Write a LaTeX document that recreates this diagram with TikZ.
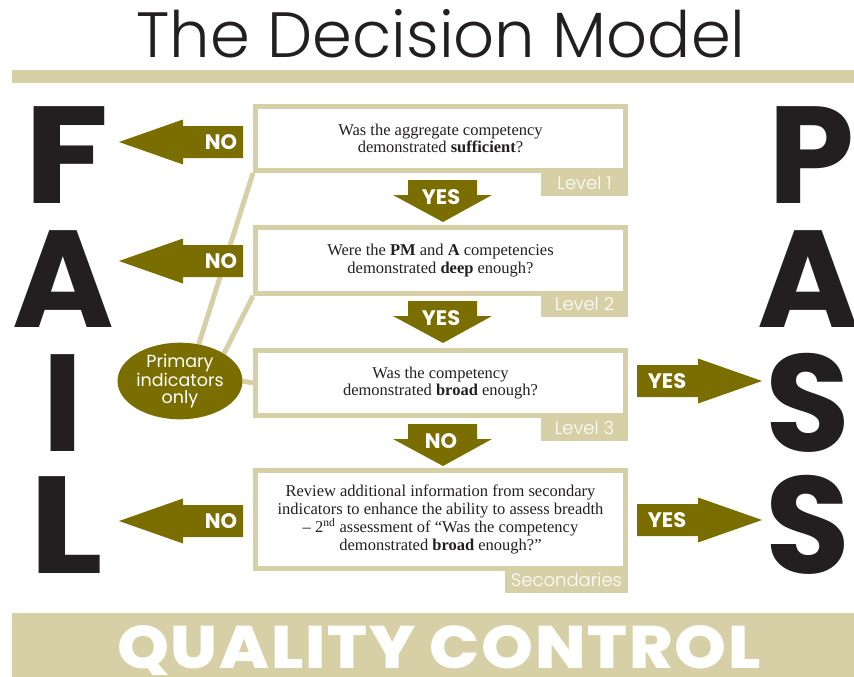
\documentclass[tikz,border=0pt]{standalone}
\usepackage{fontspec}
\setmainfont{Liberation Serif}
\newfontfamily\popb{Poppins}[UprightFont=* Bold]
\newfontfamily\popbw{Poppins}[UprightFont=* Bold, FakeStretch=1.12]
\newfontfamily\popxb{Poppins}[UprightFont=* ExtraBold, FakeStretch=1.1, LetterSpace=3]
\newfontfamily\popl{Poppins}[UprightFont=* Light]
\newfontfamily\popr{Poppins}
\usetikzlibrary{shapes.geometric,backgrounds}
\definecolor{dmolive}{RGB}{122,110,0}
\definecolor{dmtan}{RGB}{215,208,167}
\definecolor{dmdark}{RGB}{35,31,32}
\tikzset{
  qbox/.style={draw=dmtan, line width=5pt, fill=white, inner sep=0pt, align=center,
    font=\fontsize{16.5}{17.7}\selectfont, text=dmdark},
  tabbox/.style={fill=dmtan, text=white, inner sep=0pt, font=\popl\fontsize{18}{18}\selectfont},
  conn/.style={draw=dmtan, line width=5pt},
  arrtxt/.style={text=white, inner sep=0pt, font=\popb\fontsize{21}{21}\selectfont},
  bigletter/.style={text=dmdark, inner sep=0pt, anchor=base, text height=98pt, text depth=0pt,
    font=\popb\fontsize{138}{138}\selectfont},
  bar/.style={fill=dmtan}
}
\newcommand\LeftArr[3]{%
  \fill[dmolive] (119,#1) -- (183,{#1-22.5}) -- (183,{#1-16}) -- (243,{#1-16}) -- (243,{#1+16}) -- (183,{#1+16}) -- (183,{#1+22.5}) -- cycle;
  \node[arrtxt] (#3) at (221,#1) {#2};}
\newcommand\RightArr[3]{%
  \fill[dmolive] (762,#1) -- (698,{#1-22.5}) -- (698,{#1-16}) -- (637,{#1-16}) -- (637,{#1+16}) -- (698,{#1+16}) -- (698,{#1+22.5}) -- cycle;
  \node[arrtxt] (#3) at (667,#1) {#2};}
\newcommand\DownArr[3]{%
  \fill[dmolive] (443,{#1+42}) -- (393,{#1+15}) -- (408,{#1+15}) -- (408,#1) -- (477,#1) -- (477,{#1+15}) -- (492,{#1+15}) -- cycle;
  \node[arrtxt] (#3) at (441,{#1+17}) {#2};}
\begin{document}
\begin{tikzpicture}[x=1pt,y=-1pt]
\useasboundingbox (0,0) rectangle (854,677);
% title and bars
\node[inner sep=0pt, anchor=base, text=dmdark, font=\popl\fontsize{64}{64}\selectfont] (title) at (441,58) {The Decision Model};
\fill[bar] (12,70) rectangle (854,83);
\fill[bar] (12,613) rectangle (854,677);
\node[inner sep=0pt, anchor=base, text=white, text depth=0pt, font=\popxb\fontsize{60}{60}\selectfont] (qc) at (439,668) {QUALITY CONTROL};
% big letters
\node[bigletter, font=\popbw\fontsize{138}{138}\selectfont] (f) at (67,203) {F};
\node[bigletter] (a1) at (63,327) {A};
\node[bigletter] (i) at (63,451) {I};
\node[bigletter, font=\popbw\fontsize{138}{138}\selectfont] (l) at (66,573) {L};
\node[bigletter] (p) at (812,203) {P};
\node[bigletter] (a2) at (808,327) {A};
\node[bigletter] (s1) at (808,451) {S};
\node[bigletter] (s2) at (808,573) {S};
% question boxes
\node[qbox, minimum width=370pt, minimum height=64pt] (b1) at (440.5,138.5)
  {Was the aggregate competency\\demonstrated \textbf{sufficient}?};
\node[qbox, minimum width=370pt, minimum height=66pt] (b2) at (440.5,260.5)
  {Were the \textbf{PM} and \textbf{A} competencies\\demonstrated \textbf{deep} enough?};
\node[qbox, minimum width=370pt, minimum height=65pt] (b3) at (440.5,383)
  {Was the competency\\demonstrated \textbf{broad} enough?};
\node[qbox, minimum width=370pt, minimum height=98pt] (b4) at (440.5,519.5)
  {Review additional information from secondary\\indicators to enhance the ability to assess breadth\\– 2\textsuperscript{nd} assessment of “Was the competency\\demonstrated \textbf{broad} enough?”};
% tabs
\node[tabbox, minimum width=87pt, minimum height=27pt] (t1) at (584.5,182.5) {Level 1};
\node[tabbox, minimum width=87pt, minimum height=26pt] (t2) at (584.5,304) {Level 2};
\node[tabbox, minimum width=87pt, minimum height=26pt] (t3) at (584.5,428) {Level 3};
\node[tabbox, minimum width=123pt, minimum height=26pt] (t4) at (566.5,580) {Secondaries};
% primary indicators ellipse
\node[ellipse, fill=dmolive, minimum width=125pt, minimum height=75pt, inner sep=0pt,
  text=white, align=center, font=\popr\fontsize{17.5}{17.5}\selectfont] (prim) at (180,381)
  {Primary\\indicators\\only};
\begin{pgfonlayer}{background}
\draw[conn] (b1.south west) -- (prim.63);
\draw[conn] (b2.south west) -- (prim.32);
\draw[conn] (prim.east) -- (b3.west);
\end{pgfonlayer}
% arrows
\LeftArr{142}{NO}{no1}
\LeftArr{261}{NO}{no2}
\LeftArr{521}{NO}{no3}
\RightArr{381}{YES}{yes3}
\RightArr{520}{YES}{yes4}
\DownArr{180}{YES}{yes1}
\DownArr{301}{YES}{yes2}
\DownArr{424}{NO}{no4}
\end{tikzpicture}
\end{document}
